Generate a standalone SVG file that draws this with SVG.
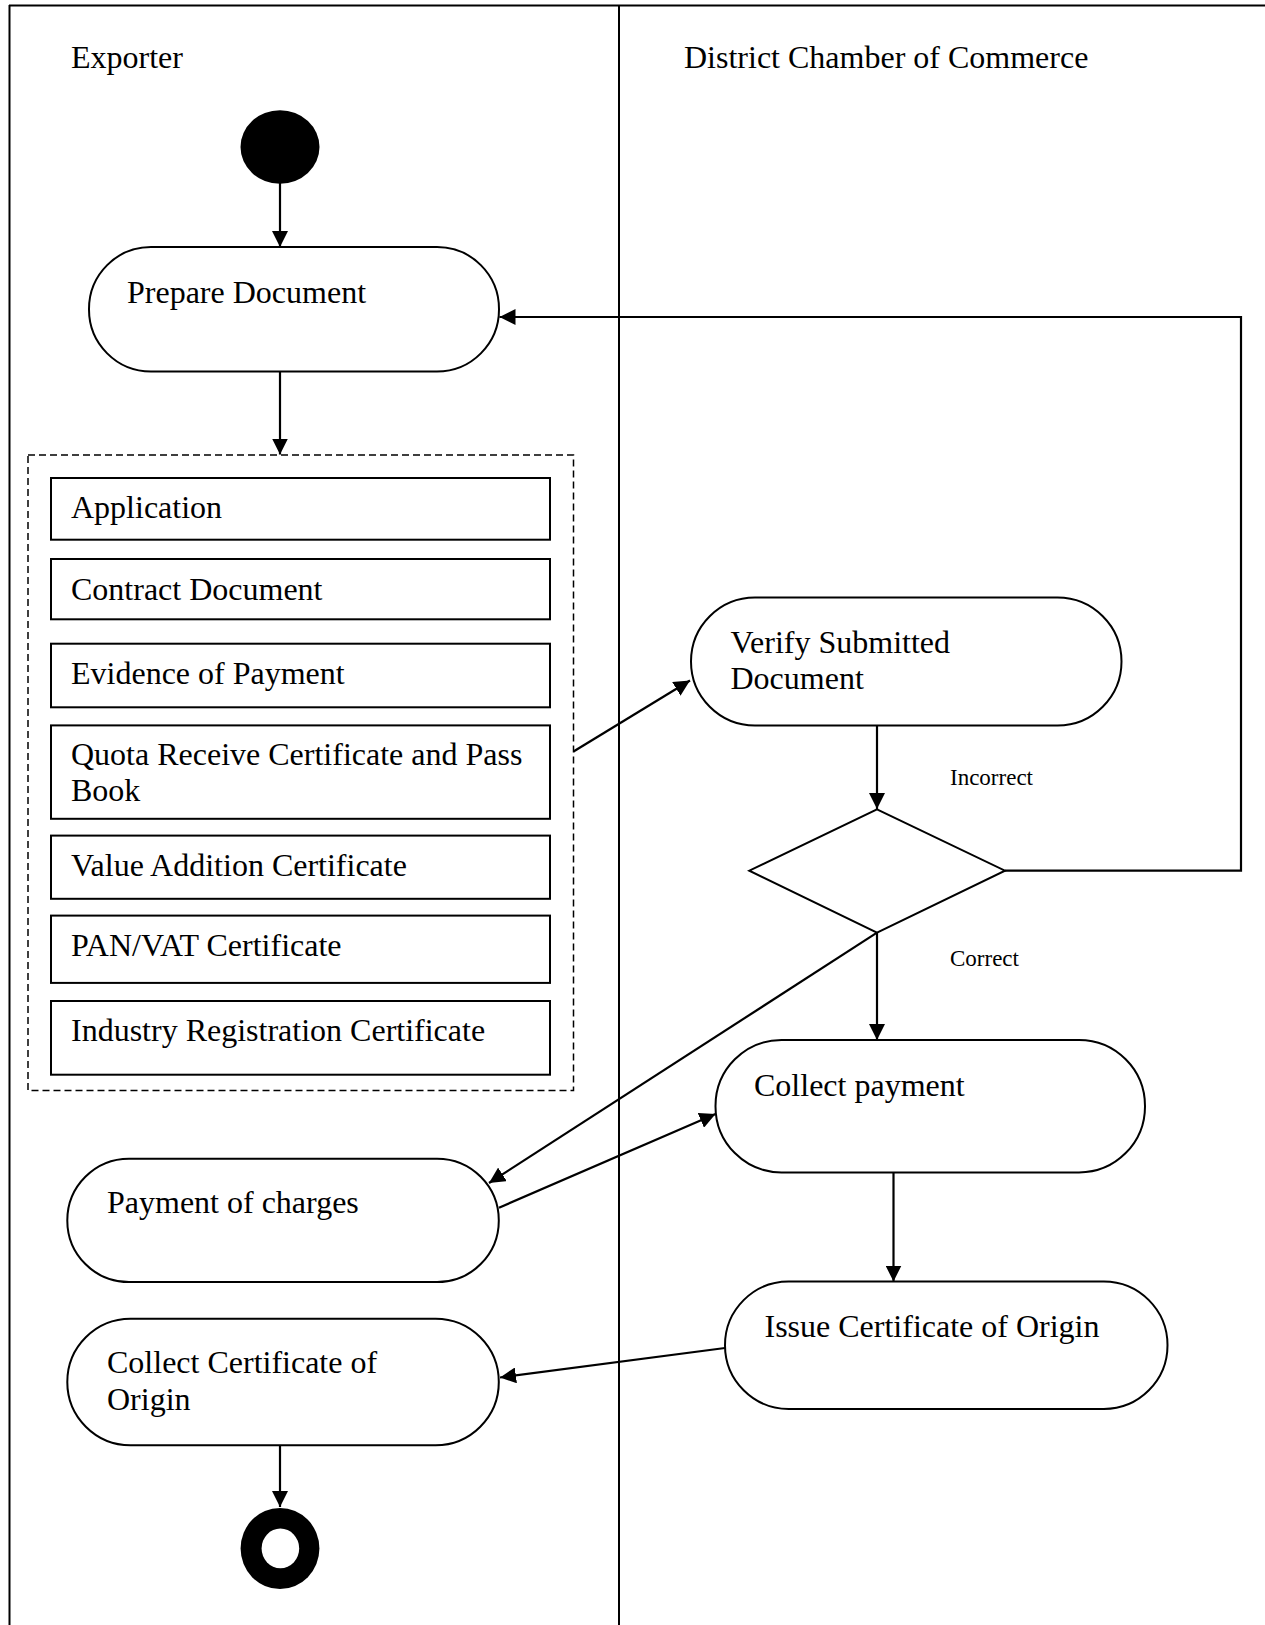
<svg xmlns="http://www.w3.org/2000/svg" width="1265" height="1625" viewBox="0 0 1265 1625">
<defs>
<marker id="arr" markerUnits="userSpaceOnUse" markerWidth="17" markerHeight="16" refX="16" refY="8" orient="auto">
<path d="M0,0 L16,8 L0,16 z" fill="#000"/>
</marker>
<style>
.t{font-family:"Liberation Serif","Times New Roman",serif;font-size:32px;fill:#000}
.s{font-family:"Liberation Serif","Times New Roman",serif;font-size:23px;fill:#000}
.act{fill:#fff;stroke:#000;stroke-width:2}
.doc{fill:#fff;stroke:#000;stroke-width:2}
.frame{stroke:#000;stroke-width:2;fill:none}
.c{stroke:#000;stroke-width:2;fill:none}
.ca{stroke:#000;stroke-width:2.2;fill:none;marker-end:url(#arr)}
</style>
</defs>
<rect width="1265" height="1625" fill="#fff"/>
<g id="swimlanes">
<line class="frame" x1="9" y1="5.5" x2="1265" y2="5.5"/>
<line class="frame" x1="9.5" y1="5" x2="9.5" y2="1625"/>
<line class="frame" x1="619" y1="5" x2="619" y2="1625"/>
<text class="t" x="71" y="68">Exporter</text>
<text class="t" x="684" y="68">District Chamber of Commerce</text>
</g>
<g id="connectors">
<line class="ca" x1="280" y1="183" x2="280" y2="247"/>
<line class="ca" x1="280" y1="371.5" x2="280" y2="454.5"/>
<line class="ca" x1="573.5" y1="751.5" x2="690" y2="680.5"/>
<line class="ca" x1="877" y1="725.5" x2="877" y2="809"/>
<polyline class="ca" points="1005,870.7 1241,870.7 1241,317 499.5,317"/>
<line class="ca" x1="877" y1="932.7" x2="877" y2="1040"/>
<line class="ca" x1="877" y1="932.7" x2="489" y2="1183"/>
<line class="ca" x1="499" y1="1207.7" x2="715.5" y2="1114"/>
<line class="ca" x1="893.5" y1="1172.4" x2="893.5" y2="1281.5"/>
<line class="ca" x1="725" y1="1348" x2="500" y2="1377.5"/>
<line class="ca" x1="280" y1="1445" x2="280" y2="1507"/>
<text class="s" x="950" y="785">Incorrect</text>
<text class="s" x="950" y="966">Correct</text>
</g>
<g id="start">
<ellipse cx="280" cy="147" rx="39.5" ry="36.7" fill="#000"/>
</g>
<g id="prepare-document">
<rect class="act" x="89" y="247" width="410" height="124.5" rx="62" ry="62"/>
<text class="t" x="127" y="303">Prepare Document</text>
</g>
<g id="documents">
<rect x="28" y="455" width="545.5" height="635.5" fill="none" stroke="#000" stroke-width="1.5" stroke-dasharray="7,4"/>
<g id="doc-application">
<rect class="doc" x="51" y="478" width="499" height="61.7"/>
<text class="t" x="71" y="518">Application</text>
</g>
<g id="doc-contract">
<rect class="doc" x="51" y="559" width="499" height="60.3"/>
<text class="t" x="71" y="600">Contract Document</text>
</g>
<g id="doc-evidence">
<rect class="doc" x="51" y="643.7" width="499" height="63.6"/>
<text class="t" x="71" y="684">Evidence of Payment</text>
</g>
<g id="doc-quota">
<rect class="doc" x="51" y="725.4" width="499" height="93.4"/>
<text class="t" x="71" y="765">Quota Receive Certificate and Pass</text>
<text class="t" x="71" y="801">Book</text>
</g>
<g id="doc-value">
<rect class="doc" x="51" y="835.6" width="499" height="63.2"/>
<text class="t" x="71" y="875.6">Value Addition Certificate</text>
</g>
<g id="doc-panvat">
<rect class="doc" x="51" y="915.6" width="499" height="67.3"/>
<text class="t" x="71" y="955.6">PAN/VAT Certificate</text>
</g>
<g id="doc-industry">
<rect class="doc" x="51" y="1001" width="499" height="73.7"/>
<text class="t" x="71" y="1041">Industry Registration Certificate</text>
</g>
</g>
<g id="verify">
<rect class="act" x="691" y="597.5" width="430.5" height="128" rx="64" ry="64"/>
<text class="t" x="730.5" y="652.7">Verify Submitted</text>
<text class="t" x="730.5" y="689.3">Document</text>
</g>
<g id="decision">
<polygon points="877,809.3 1005,870.7 877,932.7 749.3,870.7" fill="#fff" stroke="#000" stroke-width="2"/>
</g>
<g id="collect-payment">
<rect class="act" x="715.5" y="1040" width="429.5" height="132.4" rx="66" ry="66"/>
<text class="t" x="754" y="1096.4">Collect payment</text>
</g>
<g id="issue-certificate">
<rect class="act" x="725" y="1281.5" width="442.5" height="127.4" rx="63.7" ry="63.7"/>
<text class="t" x="764.5" y="1337">Issue Certificate of Origin</text>
</g>
<g id="payment-of-charges">
<rect class="act" x="67.3" y="1158.7" width="431.5" height="123.4" rx="61.7" ry="61.7"/>
<text class="t" x="107" y="1213.2">Payment of charges</text>
</g>
<g id="collect-certificate">
<rect class="act" x="67.3" y="1318.8" width="431.5" height="126.5" rx="63.2" ry="63.2"/>
<text class="t" x="107" y="1373.4">Collect Certificate of</text>
<text class="t" x="107" y="1410">Origin</text>
</g>
<g id="end">
<ellipse cx="280" cy="1548.5" rx="39.4" ry="40.5" fill="#000"/>
<ellipse cx="280.4" cy="1548.4" rx="18.8" ry="19.8" fill="#fff"/>
</g>
</svg>
